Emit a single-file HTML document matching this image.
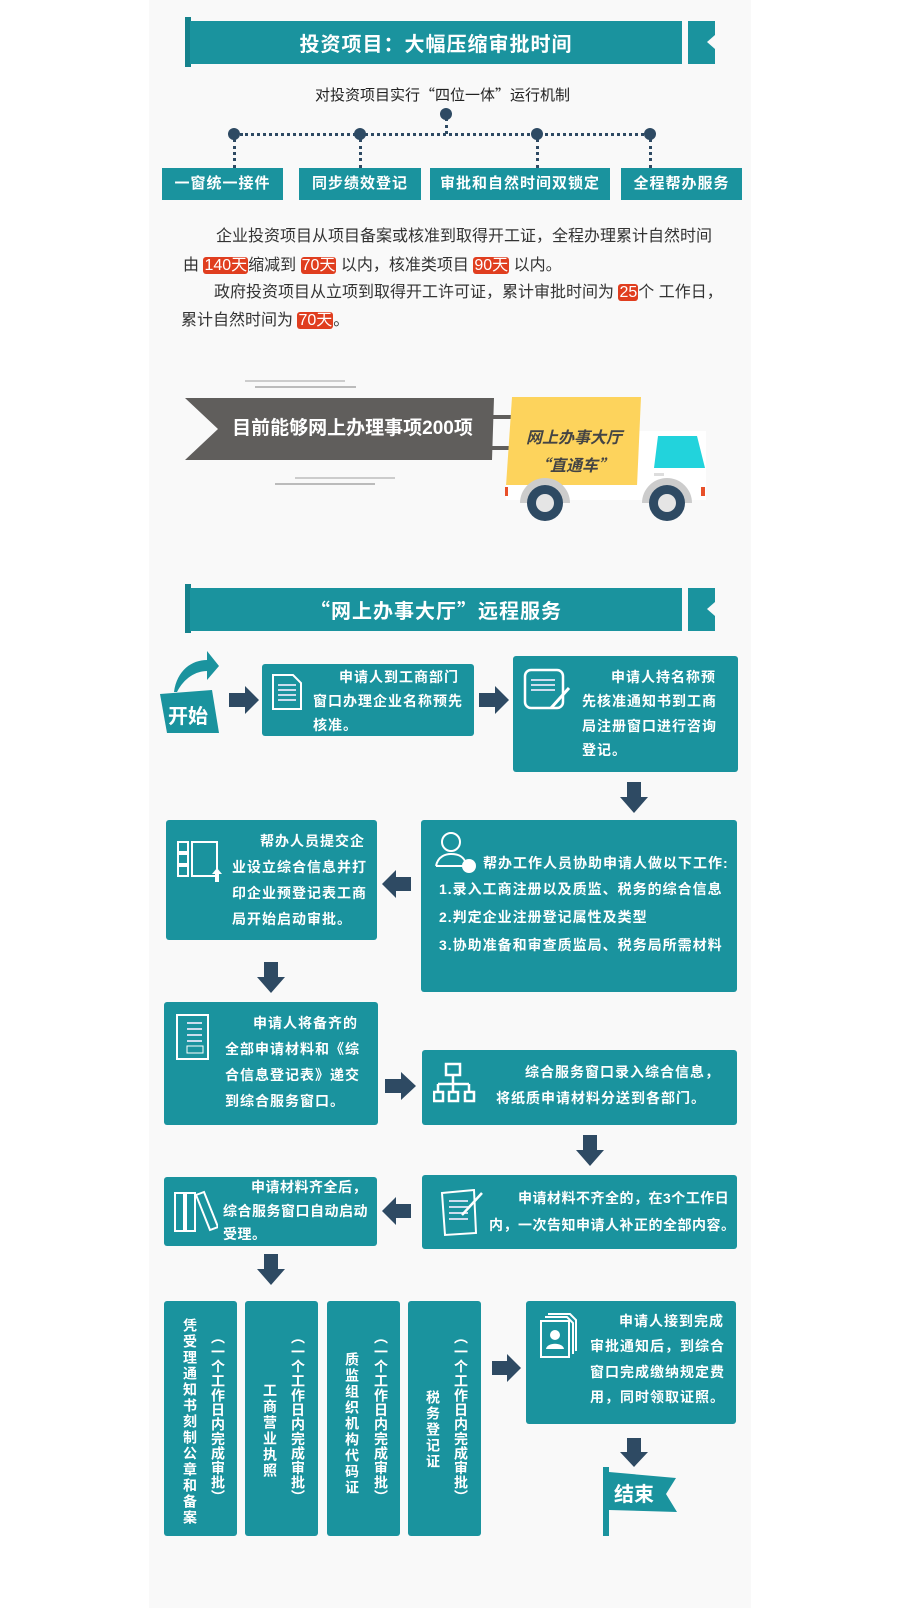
<!DOCTYPE html>
<html><head><meta charset="utf-8"><style>
*{margin:0;padding:0;box-sizing:border-box}
body{width:900px;height:1608px;background:#fff;position:relative;overflow:hidden;font-family:"Liberation Sans","Noto Sans CJK SC",sans-serif}
.col{position:absolute;left:149px;top:0;width:602px;height:1608px;background:#f9f9f9}
.a{position:absolute}
.t{background:#1a939e;color:#fff;font-weight:bold}
.hd{position:absolute;left:190px;width:492px;height:43px;background:#1a939e;color:#fff;font-weight:bold;font-size:20px;text-align:center;line-height:43px;letter-spacing:1px;font-family:"Noto Sans CJK SC",sans-serif}
.st{position:absolute;left:185px;width:6px;background:#15828c}
.tab{position:absolute;left:688px;width:27px;height:43px;background:#1a939e}
.tab:after{content:"";position:absolute;right:0;top:14px;border-top:7px solid transparent;border-bottom:7px solid transparent;border-right:8px solid #f9f9f9}
.lb{position:absolute;top:168px;height:32px;line-height:32px;text-align:center;font-size:15px;letter-spacing:1px}
.dot{position:absolute;width:12px;height:12px;border-radius:50%;background:#2e4a63}
.vl{position:absolute;width:0;border-left:3px dotted #2e4a63}
.p{position:absolute;font-size:16px;color:#333;white-space:nowrap;line-height:22px}
.r{background:#e03e1f;color:#fff;border-radius:3px;padding:0 1px}
.bx{position:absolute;border-radius:3px;background:#1a939e;color:#fff;font-weight:bold;font-size:14px;letter-spacing:1px}
.bx .tx{position:absolute;white-space:nowrap}
.v{position:absolute;writing-mode:vertical-rl;font-size:14px;font-weight:bold;color:#fff;letter-spacing:2px;font-family:"Noto Sans CJK SC",sans-serif}
</style></head><body>
<div class="col"></div>

<!-- header 1 -->
<div class="st" style="top:17px;height:50px"></div>
<div class="hd" style="top:21px">投资项目：大幅压缩审批时间</div>
<div class="tab" style="top:21px"></div>

<div class="p" style="left:315px;top:84px;font-size:15px;color:#222;font-family:'Noto Sans CJK SC',sans-serif">对投资项目实行“四位一体”运行机制</div>
<div class="a" style="left:240px;top:133px;width:410px;border-top:3px dotted #2e4a63"></div>
<div class="vl" style="left:445px;top:118px;height:16px"></div>
<div class="dot" style="left:440px;top:108px"></div>
<div class="dot" style="left:228px;top:128px"></div><div class="vl" style="left:233px;top:139px;height:29px"></div>
<div class="dot" style="left:354px;top:128px"></div><div class="vl" style="left:359px;top:139px;height:29px"></div>
<div class="dot" style="left:531px;top:128px"></div><div class="vl" style="left:536px;top:139px;height:29px"></div>
<div class="dot" style="left:644px;top:128px"></div><div class="vl" style="left:649px;top:139px;height:29px"></div>
<div class="lb t" style="left:162px;width:121px">一窗统一接件</div>
<div class="lb t" style="left:299px;width:122px">同步绩效登记</div>
<div class="lb t" style="left:430px;width:180px">审批和自然时间双锁定</div>
<div class="lb t" style="left:621px;width:121px">全程帮办服务</div>

<div class="p" style="left:216px;top:226px">企业投资项目从项目备案或核准到取得开工证，全程办理累计自然时间</div>
<div class="p" style="left:183px;top:255px">由 <span class="r">140天</span>缩减到 <span class="r">70天</span> 以内，核准类项目 <span class="r">90天</span> 以内。</div>
<div class="p" style="left:214px;top:282px">政府投资项目从立项到取得开工许可证，累计审批时间为 <span class="r">25</span>个 工作日，</div>
<div class="p" style="left:181px;top:310px">累计自然时间为 <span class="r">70天</span>。</div>

<!-- truck banner -->
<div class="a" style="left:245px;top:380px;width:100px;height:2px;background:#ccc"></div>
<div class="a" style="left:255px;top:386px;width:101px;height:2px;background:#bbb"></div>
<div class="a" style="left:295px;top:477px;width:100px;height:2px;background:#ccc"></div>
<div class="a" style="left:275px;top:483px;width:100px;height:2px;background:#bbb"></div>
<svg class="a" style="left:180px;top:390px" width="540" height="140" viewBox="180 390 540 140">
<polygon points="185,398 494,398 492,460 185,460 218,429" fill="#605e5c"/>
<rect x="490" y="415" width="22" height="4" fill="#605e5c"/>
<rect x="490" y="446" width="22" height="4" fill="#605e5c"/>
<rect x="636" y="431" width="70" height="64" fill="#fff"/>
<polygon points="658,436 697,436 705,468 654,468" fill="#22d3dc"/>
<rect x="654" y="473" width="10" height="3" fill="#ddd"/>
<polygon points="512,397 641,397 637,486 506,486" fill="#fdd35c"/>
<rect x="506" y="485" width="200" height="15" fill="#fff"/>
<rect x="505" y="487" width="3" height="9" fill="#e8502a"/>
<rect x="701" y="487" width="4" height="9" fill="#e8502a"/>
<circle cx="545" cy="503" r="25" fill="#ccc"/><rect x="515" y="503" width="62" height="28" fill="#f9f9f9"/>
<circle cx="667" cy="503" r="25" fill="#ccc"/><rect x="636" y="503" width="62" height="28" fill="#f9f9f9"/>
<circle cx="545" cy="503" r="18" fill="#2e4a63"/><circle cx="545" cy="503" r="9" fill="#e5e5e5"/>
<circle cx="667" cy="503" r="18" fill="#2e4a63"/><circle cx="667" cy="503" r="9" fill="#e5e5e5"/>
</svg>
<div class="a" style="left:220px;top:416px;width:265px;text-align:center;color:#fff;font-weight:bold;font-size:19px;line-height:26px">目前能够网上办理事项200项</div>
<div class="a" style="left:508px;top:422px;width:132px;text-align:center;color:#444;font-weight:bold;font-style:italic;font-size:16px;line-height:28px;font-family:'Noto Sans CJK SC',sans-serif">网上办事大厅<br>“直通车”</div>

<!-- header 2 -->
<div class="st" style="top:584px;height:49px"></div>
<div class="hd" style="top:588px">“网上办事大厅”远程服务</div>
<div class="tab" style="top:588px"></div>

<!-- arrows -->
<svg class="a" style="left:0;top:0" width="900" height="1608">
<g fill="#2e4a63">
<polygon points="229,693 245,693 245,686 259,700 245,714 245,707 229,707"/>
<polygon points="479,693 495,693 495,686 509,700 495,714 495,707 479,707"/>
<polygon points="627,782 641,782 641,797 648,797 634,813 620,797 627,797"/>
<polygon points="411,877 396,877 396,870 382,884 396,898 396,891 411,891"/>
<polygon points="264,962 278,962 278,977 285,977 271,993 257,977 264,977"/>
<polygon points="385,1079 401,1079 401,1072 416,1086 401,1100 401,1093 385,1093"/>
<polygon points="583,1135 597,1135 597,1150 604,1150 590,1166 576,1150 583,1150"/>
<polygon points="411,1204 396,1204 396,1197 382,1211 396,1225 396,1218 411,1218"/>
<polygon points="264,1254 278,1254 278,1269 285,1269 271,1285 257,1269 264,1269"/>
<polygon points="492,1361 507,1361 507,1354 521,1368 507,1382 507,1375 492,1375"/>
<polygon points="627,1438 641,1438 641,1452 648,1452 634,1467 620,1452 627,1452"/>
</g>
<path d="M174,692 C177,670 192,660 207,660 L207,651 L219,666 L207,680 L207,671 C196,671 184,678 177,692 Z" fill="#1a939e"/>
<polygon points="160,694 212,690 219,733 167,733" fill="#1a939e"/>
<rect x="603" y="1467" width="6" height="69" fill="#1a939e"/>
<polygon points="609,1472 676,1478 666,1494 677,1512 609,1510" fill="#1a939e"/>
</svg>
<div class="a" style="left:168px;top:700px;color:#fff;font-weight:bold;font-size:20px">开始</div>
<div class="a" style="left:614px;top:1478px;color:#fff;font-weight:bold;font-size:20px">结束</div>

<!-- boxes -->
<div class="bx" style="left:262px;top:664px;width:212px;height:72px">
<svg class="a" style="left:9px;top:9px" width="32" height="38"><path d="M2,2 H22 L30,10 V36 H2 Z" fill="none" stroke="#fff" stroke-width="2"/><g stroke="#cde" stroke-width="2"><line x1="7" y1="12" x2="25" y2="12"/><line x1="7" y1="17" x2="25" y2="17"/><line x1="7" y1="22" x2="25" y2="22"/><line x1="7" y1="27" x2="25" y2="27"/></g></svg>
<div class="tx" style="left:51px;top:1px;line-height:24px"><span style="margin-left:26px">申请人到工商部门</span><br>窗口办理企业名称预先<br>核准。</div></div>

<div class="bx" style="left:513px;top:656px;width:225px;height:116px">
<svg class="a" style="left:10px;top:12px" width="48" height="44"><rect x="2" y="2" width="38" height="38" rx="6" fill="none" stroke="#fff" stroke-width="2.5"/><g stroke="#cde" stroke-width="2"><line x1="8" y1="12" x2="32" y2="12"/><line x1="8" y1="17" x2="32" y2="17"/><line x1="8" y1="22" x2="32" y2="22"/></g><line x1="28" y1="40" x2="46" y2="20" stroke="#fff" stroke-width="3"/></svg>
<div class="tx" style="left:69px;top:9px;line-height:24.3px"><span style="margin-left:29px">申请人持名称预</span><br>先核准通知书到工商<br>局注册窗口进行咨询<br>登记。</div></div>

<div class="bx" style="left:166px;top:820px;width:211px;height:120px">
<svg class="a" style="left:10px;top:20px" width="48" height="44"><g fill="none" stroke="#fff" stroke-width="2"><rect x="2" y="2" width="10" height="10"/><rect x="2" y="14" width="10" height="10"/><rect x="2" y="26" width="10" height="10"/><rect x="16" y="2" width="25" height="34"/></g><polygon points="41,28 46,34 43,34 43,42 39,42 39,34 36,34" fill="#fff"/></svg>
<div class="tx" style="left:66px;top:8px;line-height:26px"><span style="margin-left:28px">帮办人员提交企</span><br>业设立综合信息并打<br>印企业预登记表工商<br>局开始启动审批。</div></div>

<div class="bx" style="left:421px;top:820px;width:316px;height:172px">
<svg class="a" style="left:13px;top:10px" width="44" height="44"><circle cx="17" cy="12" r="9" fill="none" stroke="#fff" stroke-width="2"/><path d="M2,36 C4,26 12,24 17,24 C24,24 30,26 32,34" fill="none" stroke="#fff" stroke-width="2"/><line x1="2" y1="36" x2="30" y2="36" stroke="#fff" stroke-width="2"/><circle cx="35" cy="36" r="7" fill="#fff"/></svg>
<div class="tx" style="left:62px;top:30px;line-height:26px">帮办工作人员协助申请人做以下工作:</div>
<div class="tx" style="left:18px;top:55px;line-height:28px">1.录入工商注册以及质监、税务的综合信息<br>2.判定企业注册登记属性及类型<br>3.协助准备和审查质监局、税务局所需材料</div></div>

<div class="bx" style="left:164px;top:1002px;width:214px;height:123px">
<svg class="a" style="left:12px;top:12px" width="34" height="50"><rect x="1" y="1" width="31" height="44" fill="none" stroke="#fff" stroke-width="2"/><g stroke="#cde" stroke-width="2"><line x1="11" y1="9" x2="26" y2="9"/><line x1="11" y1="15" x2="26" y2="15"/><line x1="11" y1="21" x2="26" y2="21"/><line x1="11" y1="27" x2="26" y2="27"/></g><rect x="11" y="32" width="16" height="7" fill="none" stroke="#fff"/></svg>
<div class="tx" style="left:61px;top:8px;line-height:26px"><span style="margin-left:28px">申请人将备齐的</span><br>全部申请材料和《综<br>合信息登记表》递交<br>到综合服务窗口。</div></div>

<div class="bx" style="left:422px;top:1050px;width:315px;height:75px">
<svg class="a" style="left:11px;top:12px" width="44" height="46"><g fill="none" stroke="#fff" stroke-width="2.5"><rect x="13" y="2" width="14" height="11"/><line x1="20" y1="13" x2="20" y2="22"/><line x1="5" y1="22" x2="36" y2="22"/><line x1="5" y1="22" x2="5" y2="30"/><line x1="20" y1="22" x2="20" y2="30"/><line x1="36" y1="22" x2="36" y2="30"/><rect x="1" y="30" width="9" height="9"/><rect x="16" y="30" width="9" height="9"/><rect x="32" y="30" width="9" height="9"/></g></svg>
<div class="tx" style="left:74px;top:9px;line-height:26px"><span style="margin-left:29px">综合服务窗口录入综合信息，</span><br>将纸质申请材料分送到各部门。</div></div>

<div class="bx" style="left:164px;top:1177px;width:213px;height:69px">
<svg class="a" style="left:10px;top:12px" width="44" height="48"><g fill="none" stroke="#fff" stroke-width="2"><rect x="1" y="4" width="9" height="38"/><rect x="12" y="4" width="9" height="38"/><polygon points="22,6 30,3 44,38 36,41"/></g></svg>
<div class="tx" style="left:59px;top:-1px;line-height:23.5px;letter-spacing:0.5px"><span style="margin-left:28px">申请材料齐全后，</span><br>综合服务窗口自动启动<br>受理。</div></div>

<div class="bx" style="left:422px;top:1175px;width:315px;height:74px">
<svg class="a" style="left:18px;top:14px" width="44" height="50"><polygon points="2,4 34,1 36,44 5,46" fill="none" stroke="#fff" stroke-width="2"/><g stroke="#cde" stroke-width="2"><line x1="9" y1="12" x2="28" y2="12"/><line x1="9" y1="18" x2="28" y2="18"/><line x1="9" y1="24" x2="28" y2="24"/><line x1="9" y1="30" x2="28" y2="30"/></g><line x1="22" y1="26" x2="42" y2="4" stroke="#fff" stroke-width="2.5"/></svg>
<div class="tx" style="left:67px;top:10px;line-height:27px;letter-spacing:0.5px"><span style="margin-left:29px">申请材料不齐全的，在3个工作日</span><br>内，一次告知申请人补正的全部内容。</div></div>

<div class="bx" style="left:164px;top:1301px;width:73px;height:235px"></div>
<div class="bx" style="left:245px;top:1301px;width:73px;height:235px"></div>
<div class="bx" style="left:327px;top:1301px;width:73px;height:235px"></div>
<div class="bx" style="left:408px;top:1301px;width:73px;height:235px"></div>
<div class="v" style="left:182px;top:1318px;line-height:16px">凭受理通知书刻制公章和备案</div>
<div class="v" style="left:210px;top:1330px;line-height:16px;letter-spacing:0.5px">（一个工作日内完成审批）</div>
<div class="v" style="left:262px;top:1383px;line-height:16px">工商营业执照</div>
<div class="v" style="left:290px;top:1330px;line-height:16px;letter-spacing:0.5px">（一个工作日内完成审批）</div>
<div class="v" style="left:344px;top:1352px;line-height:16px">质监组织机构代码证</div>
<div class="v" style="left:373px;top:1330px;line-height:16px;letter-spacing:0.5px">（一个工作日内完成审批）</div>
<div class="v" style="left:425px;top:1390px;line-height:16px">税务登记证</div>
<div class="v" style="left:453px;top:1330px;line-height:16px;letter-spacing:0.5px">（一个工作日内完成审批）</div>

<div class="bx" style="left:526px;top:1301px;width:210px;height:123px">
<svg class="a" style="left:14px;top:12px" width="40" height="48"><g fill="none" stroke="#fff" stroke-width="2"><path d="M8,1 H30 L36,7 V38"/><path d="M5,4 H27 L33,10 V41"/><rect x="1" y="8" width="28" height="36"/></g><circle cx="15" cy="22" r="5" fill="#fff"/><path d="M6,36 C7,29 23,29 24,36 Z" fill="#fff"/></svg>
<div class="tx" style="left:64px;top:8px;line-height:25.3px"><span style="margin-left:29px">申请人接到完成</span><br>审批通知后，到综合<br>窗口完成缴纳规定费<br>用，同时领取证照。</div></div>
</body></html>
